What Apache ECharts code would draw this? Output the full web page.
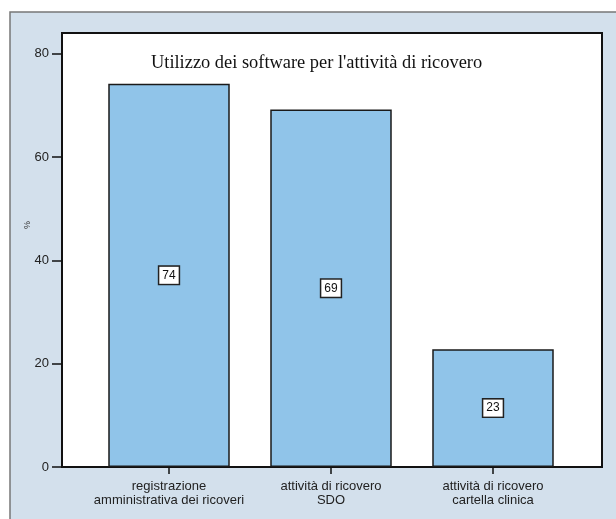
<!DOCTYPE html>
<html>
<head>
<meta charset="utf-8">
<script src="https://cdn.jsdelivr.net/npm/echarts@6/dist/echarts.min.js"></script>
<style>
  html, body { margin: 0; padding: 0; background: #fff; }
  #chart { width: 616px; height: 519px; }
</style>
</head>
<body>
<div id="chart"></div>
<script>
// dati
const categorie = [
    'registrazione\namministrativa dei ricoveri',
    'attività di ricovero\nSDO',
    'attività di ricovero\ncartella clinica'
]
const percentuali = [74.2, 69.2, 22.8]
const tickY = [0, 20, 40, 60, 80]
const titolo = "Utilizzo dei software per l'attività di ricovero"

const sans = '"Liberation Sans", Arial, sans-serif'
const serif = '"Liberation Serif", "Times New Roman", serif'

const chart = echarts.init(document.getElementById('chart'), null, { renderer: 'canvas' })

const option = {
    animation: false,
    backgroundColor: '#fff',
    title: {
        text: titolo,
        left: 146,
        top: 49,
        textStyle: { fontFamily: serif, fontWeight: 'normal', fontSize: 18.4, color: '#111' }
    },
    graphic: [{
        type: 'rect',
        z: -10,
        shape: { x: 10, y: 12, width: 640, height: 540 },
        style: { fill: '#d3e0ec', stroke: '#777', lineWidth: 1.5 }
    }],
    grid: [
        // cornice del pannello
        { left: 62, top: 33, width: 540, height: 434, show: true, backgroundColor: '#fff', borderColor: '#111', borderWidth: 2 },
        // area delle barre
        { left: 88, top: 33, width: 486, height: 434 }
    ],
    xAxis: [
        { gridIndex: 0, type: 'value', show: false, min: 0, max: 1 },
        {
            gridIndex: 1,
            type: 'category',
            data: categorie,
            axisLine: { show: false },
            axisTick: { show: true, alignWithLabel: true, length: 7, lineStyle: { color: '#111', width: 1.5 } },
            axisLabel: { interval: 0, margin: 12, fontSize: 13, lineHeight: 14, color: '#222', fontFamily: sans }
        }
    ],
    yAxis: [
        {
            gridIndex: 0,
            type: 'value',
            min: 0,
            max: 84,
            interval: 20,
            name: '%',
            nameLocation: 'middle',
            nameRotate: 90,
            nameGap: 30,
            nameMoveOverlap: false,
            nameTextStyle: { fontSize: 9, color: '#333', fontFamily: sans, padding: [0, 0, 0, 50] },
            axisLine: { show: false },
            splitLine: { show: false },
            axisTick: { show: true, length: 10, customValues: tickY, lineStyle: { color: '#111', width: 1.5 } },
            axisLabel: { customValues: tickY, margin: 13, fontSize: 13, color: '#222', fontFamily: sans }
        },
        { gridIndex: 1, type: 'value', min: 0, max: 84, show: false }
    ],
    series: [{
        type: 'bar',
        xAxisIndex: 1,
        yAxisIndex: 1,
        data: percentuali,
        barWidth: '75%',
        itemStyle: { color: '#90c4e9', borderColor: '#1a1a1a', borderWidth: 1.5 },
        label: {
            show: true,
            position: 'inside',
            formatter: p => Math.round(p.value),
            backgroundColor: '#fff',
            borderColor: '#222',
            borderWidth: 1.5,
            padding: [3, 3, 2, 3],
            color: '#111',
            fontSize: 12,
            fontFamily: sans
        }
    }]
}

chart.setOption(option)
</script>
</body>
</html>
